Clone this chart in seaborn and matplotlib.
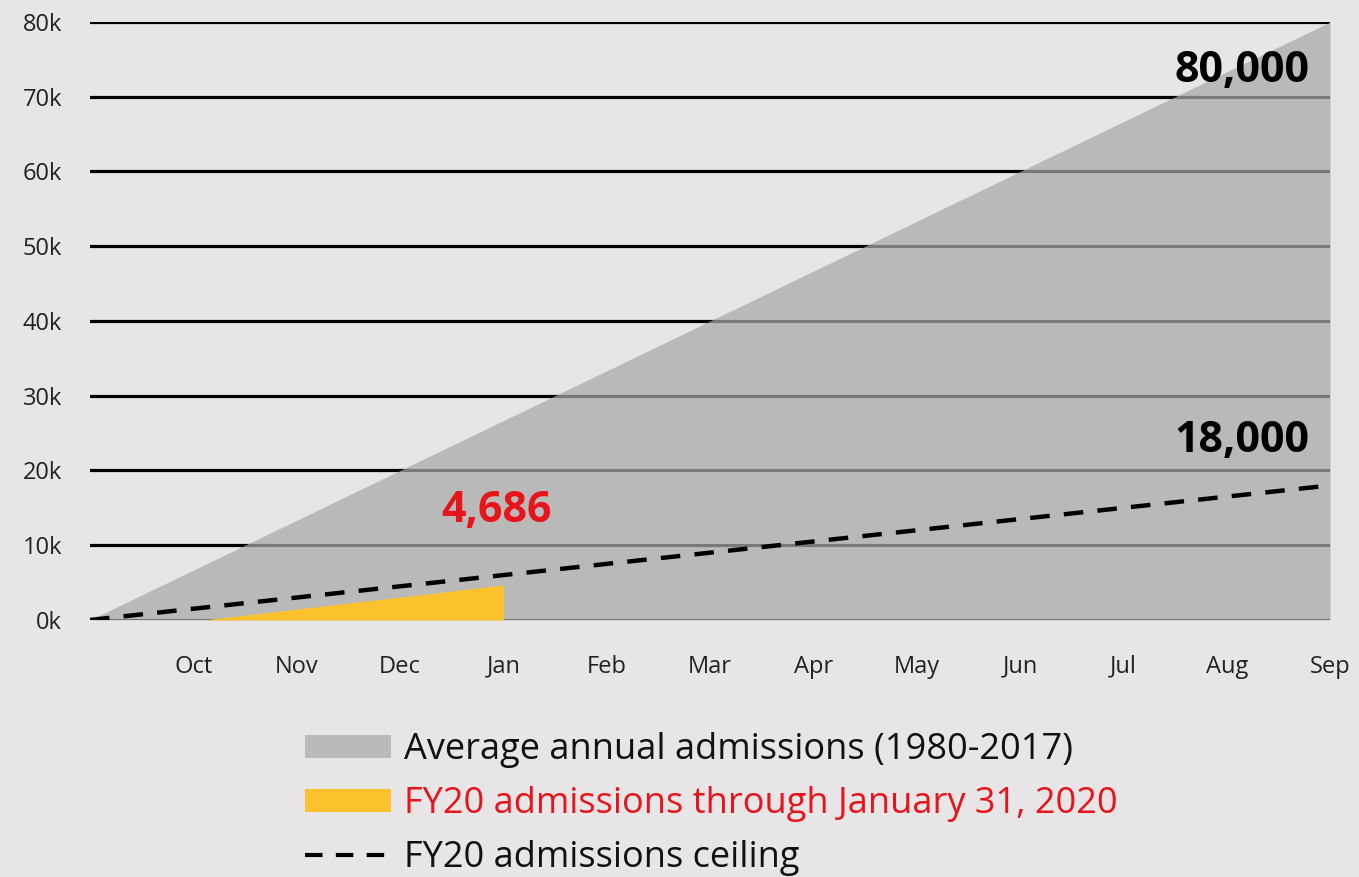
import numpy as np
import pandas as pd
import matplotlib
matplotlib.use("Agg")
import matplotlib.pyplot as plt
import seaborn as sns
from matplotlib.patches import Patch
from matplotlib.lines import Line2D

# data
months = ["Oct", "Nov", "Dec", "Jan", "Feb", "Mar", "Apr", "May", "Jun", "Jul", "Aug", "Sep"]
avg_pos = [0, 12]
avg_values = [0, 80000]
ceiling_pos = [0, 12]
ceiling_values = [0, 18000]
fy20_pos = [1.1, 2, 3, 4]
fy20_values = [0, 1450, 3050, 4686]
yticks = [0, 10000, 20000, 30000, 40000, 50000, 60000, 70000, 80000]
ytick_labels = ["0k", "10k", "20k", "30k", "40k", "50k", "60k", "70k", "80k"]

BG = "#e7e5e5"
sns.set_theme(style="white")
plt.rcParams["font.family"] = ["Open Sans", "DejaVu Sans"]

fig = plt.figure(figsize=(13.59, 8.77), dpi=100, facecolor=BG)
ax = fig.add_axes([0.0662, 0.2931, 0.9125, 0.6818])
ax.set_facecolor(BG)

# black gridlines under the areas
for y in yticks:
    ax.axhline(y, color="black", lw=2.3, zorder=1)

ax.fill_between(avg_pos, avg_values, 0, color="#a9a9a9", alpha=0.72, lw=0, zorder=2)
ax.fill_between(fy20_pos, fy20_values, 0, color="#fcc22e", lw=0, zorder=3)

ceiling = pd.DataFrame({"pos": ceiling_pos, "val": ceiling_values})
sns.lineplot(data=ceiling, x="pos", y="val", ax=ax, color="black", lw=3.2,
             dashes=False, zorder=4)
ax.lines[-1].set_dashes((4.4, 3.2))

ax.set_xlim(0, 12)
ax.set_ylim(0, 80000)
ax.set_xticks(range(1, 13))
ax.set_xticklabels(months, fontsize=17, color="#222222")
ax.set_yticks(yticks)
ax.set_yticklabels(ytick_labels, fontsize=17, color="#222222")
ax.tick_params(axis="x", length=0, pad=25)
ax.tick_params(axis="y", length=0, pad=20)
ax.set_xlabel("")
ax.set_ylabel("")
for s in ax.spines.values():
    s.set_visible(False)

ax.text(11.8, 73500, "80,000", ha="right", va="center", fontsize=31,
        fontweight="bold", color="black", zorder=5)
ax.text(11.8, 24000, "18,000", ha="right", va="center", fontsize=31,
        fontweight="bold", color="black", zorder=5)
ax.text(3.93, 14600, "4,686", ha="center", va="center", fontsize=31,
        fontweight="bold", color="#e8141b", zorder=5)

handles = [Patch(facecolor="#bababa", edgecolor="none"),
           Patch(facecolor="#fcc22e", edgecolor="none"),
           Line2D([0], [0], color="black", lw=3, dashes=(4.2, 3.2))]
labels = ["Average annual admissions (1980-2017)",
          "FY20 admissions through January 31, 2020",
          "FY20 admissions ceiling"]
leg = fig.legend(handles, labels, loc="upper left", bbox_to_anchor=(0.211, 0.186),
                 frameon=False, fontsize=26, handlelength=2.4, handleheight=0.6,
                 handletextpad=0.35, labelspacing=0.5, borderpad=0)
for t in leg.get_texts():
    t.set_color("#111111")
leg.get_texts()[1].set_color("#e8141b")

fig.savefig("out.png", dpi=100, facecolor=BG)
